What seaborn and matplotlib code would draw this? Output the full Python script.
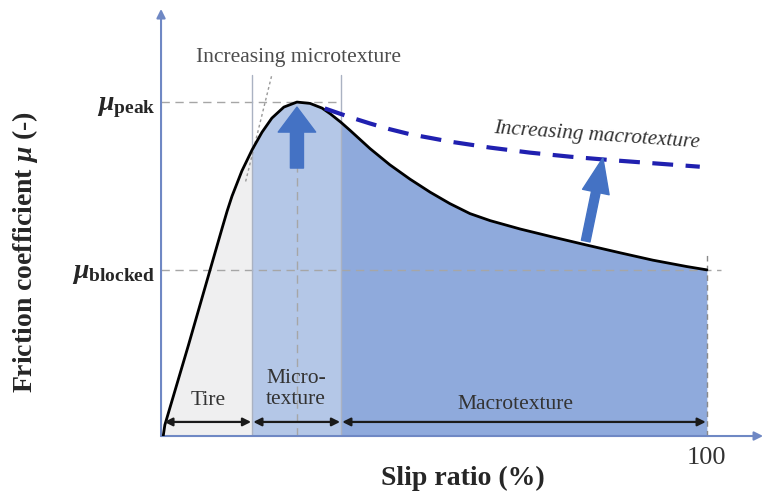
import matplotlib
matplotlib.use('Agg')
import numpy as np
import pandas as pd
import matplotlib.pyplot as plt
import seaborn as sns

# friction curve (slip ratio in %, friction normalised to mu_peak ~ 1)
slip = [0.4, 0.7, 5.0, 9.5, 11.2, 12.1, 13.0, 14.8, 16.7, 18.5, 20.3, 22.5, 24.9, 27.3,
        29.5, 31.0, 33.0, 34.6, 38.3, 41.9, 45.6, 49.3, 52.9, 56.6, 60.3, 65.8,
        71.8, 78.0, 84.1, 90.1, 96.3, 100.0]
mu = [0.0, 0.033, 0.27, 0.525, 0.621, 0.671, 0.716, 0.791, 0.855, 0.907, 0.949, 0.982,
      0.997, 0.993, 0.979, 0.962, 0.936, 0.913, 0.858, 0.810, 0.767, 0.728, 0.694,
      0.664, 0.643, 0.618, 0.594, 0.570, 0.547, 0.525, 0.506, 0.496]

# dashed curve: higher macrotexture
slip_macro = [30.0, 34.6, 38.3, 41.9, 45.6, 49.3, 52.9, 60.3, 67.6, 74.9, 82.2, 89.6, 98.7]
mu_macro = [0.978, 0.952, 0.933, 0.916, 0.901, 0.890, 0.879, 0.861, 0.846, 0.834,
            0.824, 0.815, 0.804]

mu_peak = 0.997
mu_blocked = 0.496
slip_peak = 24.9
zone_edges = [0.4, 16.7, 33.0, 100.0]
zone_names = ['Tire', 'Micro-\ntexture', 'Macrotexture']
zone_colors = ['#efeff0', '#b4c7e7', '#8faadc']

df = pd.DataFrame({'slip': slip, 'mu': mu})
df_macro = pd.DataFrame({'slip': slip_macro, 'mu': mu_macro})

sns.set_style('white')
plt.rcParams['font.family'] = ['Liberation Serif', 'DejaVu Serif']
plt.rcParams['mathtext.fontset'] = 'custom'
plt.rcParams['mathtext.it'] = 'Liberation Serif:italic:bold'
plt.rcParams['mathtext.bf'] = 'Liberation Serif:bold'
plt.rcParams['mathtext.rm'] = 'Liberation Serif:bold'

fig = plt.figure(figsize=(7.65, 4.92), dpi=100)
ax = fig.add_axes([0.2105, 0.1138, 0.787, 0.868])

x = df['slip'].to_numpy()
y = df['mu'].to_numpy()
for i, c in enumerate(zone_colors):
    m = (x >= zone_edges[i]) & (x <= zone_edges[i + 1])
    ax.fill_between(x[m], 0, y[m], color=c, lw=0, zorder=1)

# guide lines
guide = '#a6a6a6'
ax.plot([0, zone_edges[2]], [mu_peak, mu_peak], ls=(0, (6, 4)), color=guide, lw=1, zorder=2)
ax.plot([0, 102.5], [mu_blocked, mu_blocked], ls=(0, (6, 4)), color=guide, lw=1, zorder=2)
ax.plot([slip_peak, slip_peak], [0, mu_peak], ls=(0, (6, 4)), color=guide, lw=1, zorder=2)
ax.plot([100, 100], [0, 0.54], ls=(0, (4, 3)), color='#8a8a8a', lw=1, zorder=2)
for e in zone_edges[1:3]:
    ax.plot([e, e], [0, 1.078], color='#aab2c2', lw=1, zorder=2)
ax.plot([15.5, 20.3], [0.76, 1.078], ls=(0, (2, 2)), color='#999999', lw=1, zorder=2)

sns.lineplot(data=df, x='slip', y='mu', color='black', lw=2, sort=False, ax=ax, zorder=4)
sns.lineplot(data=df_macro, x='slip', y='mu', color='#2020b0', lw=3, sort=False,
             ax=ax, zorder=4, dashes=False, linestyle=(0, (5, 3)))

# thick blue arrows
blue = '#4472c4'
ax.annotate('', xy=(slip_peak, 0.982), xytext=(slip_peak, 0.80),
            arrowprops=dict(arrowstyle='simple,head_width=27,head_length=18,tail_width=9.4',
                            mutation_scale=1, color=blue, shrinkA=0, shrinkB=0), zorder=5)
ax.annotate('', xy=(80.95, 0.830), xytext=(77.8, 0.582),
            arrowprops=dict(arrowstyle='simple,head_width=19.5,head_length=25,tail_width=6.3',
                            mutation_scale=1, color=blue, shrinkA=0, shrinkB=0), zorder=5)

# zone double arrows
for i in range(3):
    ax.annotate('', xy=(zone_edges[i + 1] - 0.2, 0.042), xytext=(zone_edges[i] + 0.2, 0.042),
                arrowprops=dict(arrowstyle='<|-|>', color='#1a1a1a', lw=1.6,
                                mutation_scale=12, shrinkA=0, shrinkB=0), zorder=5)

# texts
txt = '#333333'
ax.text(8.7, 0.107, zone_names[0], ha='center', va='center', fontsize=15.5, color=txt, zorder=6)
ax.text(24.7, 0.14, zone_names[1], ha='center', va='center', fontsize=15.5, color=txt,
        linespacing=1.15, zorder=6)
ax.text(65.0, 0.093, zone_names[2], ha='center', va='center', fontsize=15.5, color=txt, zorder=6)
ax.text(25.1, 1.131, 'Increasing microtexture', ha='center', va='center', fontsize=15.5,
        color='#4d4d4d', zorder=6)
ax.text(79.85, 0.896, 'Increasing macrotexture', ha='center', va='center', fontsize=15.2,
        style='italic', rotation=-4, rotation_mode='anchor', color=txt, zorder=6)

# axes with arrow heads
axcol = '#6f88c4'
for sp in ax.spines.values():
    sp.set_visible(False)
ax.annotate('', xy=(1, 0), xytext=(0, 0), xycoords='axes fraction',
            arrowprops=dict(arrowstyle='-|>', color=axcol, lw=1.5, mutation_scale=13,
                            shrinkA=0, shrinkB=0), annotation_clip=False)
ax.annotate('', xy=(0, 1), xytext=(0, 0), xycoords='axes fraction',
            arrowprops=dict(arrowstyle='-|>', color=axcol, lw=1.5, mutation_scale=13,
                            shrinkA=0, shrinkB=0), annotation_clip=False)

ax.set_xlim(0, 110.3)
ax.set_ylim(0, 1.275)
ax.set_yticks([mu_blocked, mu_peak])
ax.set_yticklabels([r'$\mu_{\mathbf{blocked}}$', r'$\mu_{\mathbf{peak}}$'], fontsize=20)
ax.set_xticks([100])
ax.set_xticklabels(['100'], fontsize=19, color=txt)
ax.tick_params(axis='both', length=0)
ax.tick_params(axis='y', pad=4)
ax.tick_params(axis='x', pad=8)

ax.set_xlabel('Slip ratio (%)', fontsize=20, fontweight='bold')
ax.set_ylabel(r'Friction coefficient $\mu$ (-)', fontsize=20, fontweight='bold')
ax.xaxis.set_label_coords(0.502, -0.07)
ax.yaxis.set_label_coords(-0.201, 0.431)

fig.savefig('out.png', dpi=100, facecolor='white')
